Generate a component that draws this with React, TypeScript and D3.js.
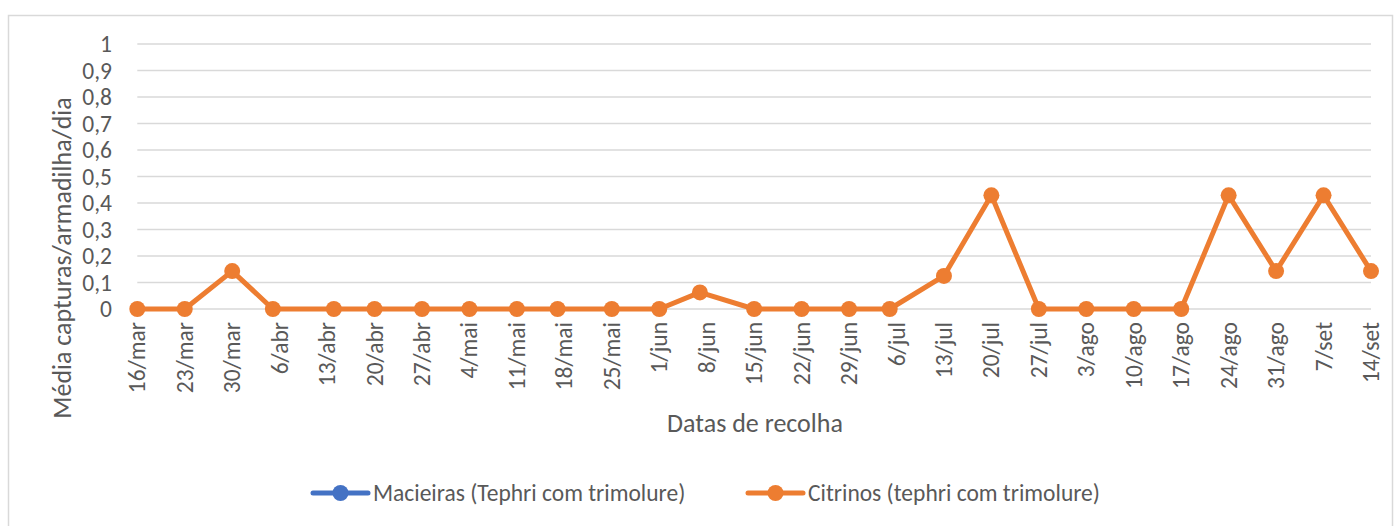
import React from "react";
import * as d3 from "d3";

const sampleDates = [
  "2021-03-16", "2021-03-23", "2021-03-30", "2021-04-05", "2021-04-14", "2021-04-20",
  "2021-04-27", "2021-05-04", "2021-05-11", "2021-05-17", "2021-05-25", "2021-06-01",
  "2021-06-07", "2021-06-15", "2021-06-22", "2021-06-29", "2021-07-05", "2021-07-13",
  "2021-07-20", "2021-07-27", "2021-08-03", "2021-08-10", "2021-08-17", "2021-08-24",
  "2021-08-31", "2021-09-07", "2021-09-14",
];
// Macieiras series has no plotted values in the reference (only its legend entry shows)
const macieiras: (number | null)[] = [
  null, null, null, null, null, null, null, null, null, null, null, null, null, null,
  null, null, null, null, null, null, null, null, null, null, null, null, null,
];
const citrinos: (number | null)[] = [
  0, 0, 0.143, 0, 0, 0, 0, 0, 0, 0, 0, 0, 0.0625, 0, 0, 0, 0, 0.125, 0.429, 0, 0, 0, 0,
  0.429, 0.143, 0.429, 0.143,
];
const tickLabels = [
  "16/mar", "23/mar", "30/mar", "6/abr", "13/abr", "20/abr", "27/abr", "4/mai", "11/mai",
  "18/mai", "25/mai", "1/jun", "8/jun", "15/jun", "22/jun", "29/jun", "6/jul", "13/jul",
  "20/jul", "27/jul", "3/ago", "10/ago", "17/ago", "24/ago", "31/ago", "7/set", "14/set",
];
const yTicks = [0, 0.1, 0.2, 0.3, 0.4, 0.5, 0.6, 0.7, 0.8, 0.9, 1];
const seriesNames = ["Macieiras (Tephri com trimolure)", "Citrinos (tephri com trimolure)"];
const yTitle = "Média capturas/armadilha/dia";
const xTitle = "Datas de recolha";

const COLORS = ["#4472C4", "#ED7D31"];
const TEXT = "#595959";
const GRID = "#d9d9d9";
const FONT = "Calibri, Carlito, Lato, sans-serif";

export default function App() {
  const parse = d3.utcParse("%Y-%m-%d");
  const dates = sampleDates.map((s) => parse(s) as Date);
  const first = dates[0];
  const last = dates[dates.length - 1];

  const x = d3.scaleUtc().domain([first, last]).range([137.3, 1371]);
  const y = d3.scaleLinear().domain([0, 1]).range([309, 44]);

  const tickDates = tickLabels.map((_, i) => d3.utcDay.offset(first, 7 * i));

  const line = d3
    .line<number | null>()
    .defined((v) => v != null)
    .x((_, i) => x(dates[i]))
    .y((v) => y(v as number));

  const series = [macieiras, citrinos];

  const fmt = (v: number) => String(v).replace(".", ",");

  const legendItems = [
    { lx: 313, tx: 373 },
    { lx: 748, tx: 808 },
  ];

  return (
    <svg
      width={1394}
      height={526}
      style={{ position: "absolute", left: 0, top: 0, background: "#fff" }}
      fontFamily={FONT}
    >
      <rect x={8.5} y={15.5} width={1384} height={530} fill="#fff" stroke={GRID} strokeWidth={1.5} />

      {yTicks.map((t) => (
        <line
          key={"g" + t}
          x1={x(first)}
          x2={x(last)}
          y1={y(t)}
          y2={y(t)}
          stroke={GRID}
          strokeWidth={1.5}
        />
      ))}

      {yTicks.map((t) => (
        <text
          key={"yl" + t}
          x={112}
          y={y(t)}
          textAnchor="end"
          dominantBaseline="central"
          fontSize={23.5}
          fill={TEXT}
        >
          {fmt(t)}
        </text>
      ))}

      {tickDates.map((d, i) => (
        <text
          key={"xl" + i}
          transform={`translate(${x(d)},322) rotate(-90)`}
          textAnchor="end"
          dominantBaseline="central"
          fontSize={23.5}
          fill={TEXT}
        >
          {tickLabels[i]}
        </text>
      ))}

      <text
        transform="translate(62,258) rotate(-90)"
        textAnchor="middle"
        dominantBaseline="central"
        fontSize={26}
        fill={TEXT}
      >
        {yTitle}
      </text>
      <text x={755} y={423} textAnchor="middle" dominantBaseline="central" fontSize={26} fill={TEXT}>
        {xTitle}
      </text>

      {series.map((vals, si) => (
        <g key={"s" + si}>
          <path
            d={line(vals) || ""}
            fill="none"
            stroke={COLORS[si]}
            strokeWidth={5}
            strokeLinejoin="round"
            strokeLinecap="round"
          />
          {vals.map((v, i) =>
            v == null ? null : (
              <circle key={i} cx={x(dates[i])} cy={y(v)} r={8} fill={COLORS[si]} />
            )
          )}
        </g>
      ))}

      {legendItems.map((it, i) => (
        <g key={"lg" + i}>
          <line
            x1={it.lx}
            x2={it.lx + 55}
            y1={493}
            y2={493}
            stroke={COLORS[i]}
            strokeWidth={5}
            strokeLinecap="round"
          />
          <circle cx={it.lx + 27.5} cy={493} r={8} fill={COLORS[i]} />
          <text x={it.tx} y={493} dominantBaseline="central" fontSize={23.5} fill={TEXT}>
            {seriesNames[i]}
          </text>
        </g>
      ))}
    </svg>
  );
}
